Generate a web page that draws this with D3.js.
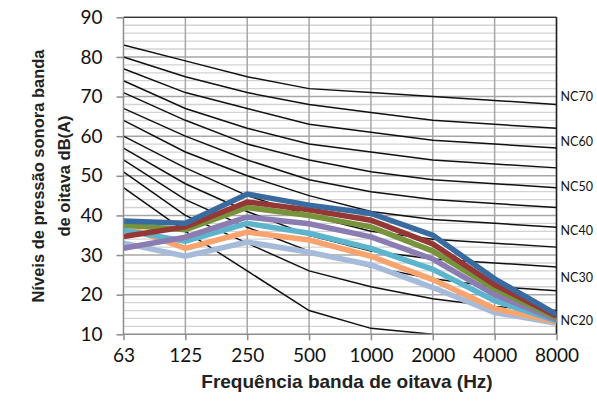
<!DOCTYPE html>
<html><head><meta charset="utf-8">
<script src="https://cdn.jsdelivr.net/npm/d3@7"></script>
<style>
html,body{margin:0;padding:0;background:#fff;}
svg{display:block;}
</style></head>
<body>
<svg id="chart" width="597" height="403"></svg>
<script>
// ---- data ----
const categories = ["63","125","250","500","1000","2000","4000","8000"];
const yTicks = [10,20,30,40,50,60,70,80,90];

// NC reference curves (black)
const nc70 = [83,79,75,72,71,70,69,68];
const nc65 = [80,75,71,68,66,64,63,62];
const nc60 = [77,71,67,63,61,59,58,57];
const nc55 = [74,67,62,58,56,54,53,52];
const nc50 = [71,64,58,54,51,49,48,47];
const nc45 = [67,60,54,49,46,44,43,42];
const nc40 = [64,56,50,45,41,39,38,37];
const nc35 = [60,52,45,40,36,34,33,32];
const nc30 = [57,48,41,35,31,29,28,27];
const nc25 = [54,44,37,31,27,24,22,21];
const nc20 = [51,40,33,26,22,19,17,16];
const nc15 = [47,36,26,16,11.5,10,null,null];
const ncCurves = [nc70,nc65,nc60,nc55,nc50,nc45,nc40,nc35,nc30,nc25,nc20,nc15];

// NC labels at right
const ncLabels = ["NC70","NC60","NC50","NC40","NC30","NC20"];
const ncLabelY = [69.9,58.6,47.3,36.2,24.2,13.4];

// measured series
const sBlue      = [38.6,38.0,45.4,42.6,40.5,35.0,24.0,15.0];
const sRed       = [34.7,37.1,43.4,41.4,38.8,32.8,22.5,14.6];
const sGreen     = [37.6,36.4,42.0,40.0,37.1,31.0,21.5,14.2];
const sPurple    = [31.7,34.5,39.6,37.9,34.6,29.0,20.0,13.7];
const sCyan      = [36.3,33.5,38.0,35.5,31.7,26.4,18.5,13.4];
const sOrange    = [37.3,31.7,35.8,33.8,29.7,23.8,16.5,13.1];
const sLightBlue = [33.0,29.7,33.3,30.7,27.5,21.8,15.5,12.8];
const series = [sBlue,sRed,sGreen,sPurple,sCyan,sOrange,sLightBlue];
const seriesColors = ["#3A6BA0","#953735","#77933C","#8B7DB1","#5DB5CD","#F9A46E","#A6BBDA"];

// ---- layout ----
const L = 123.5, R = 556.5, T = 17.3, B = 334.3;
const svg = d3.select("#chart");
const x = d3.scalePoint().domain(categories).range([L, R]);
const y = d3.scaleLinear().domain([10, 90]).range([B, T]);

// minor gridlines every 2
const minor = d3.range(12, 90, 2).filter(v => v % 10 !== 0);
svg.append("g").selectAll("line").data(minor).join("line")
  .attr("x1", L + 1).attr("x2", R).attr("y1", d => y(d)).attr("y2", d => y(d))
  .attr("stroke", "#D3D3D3").attr("stroke-width", 1.3);
// major gridlines
svg.append("g").selectAll("line").data(yTicks.filter(v => v > 10)).join("line")
  .attr("x1", L).attr("x2", R).attr("y1", d => y(d)).attr("y2", d => y(d))
  .attr("stroke", "#A6A6A6").attr("stroke-width", 1.5);
// vertical gridlines
svg.append("g").selectAll("line").data(categories.slice(1)).join("line")
  .attr("x1", d => x(d)).attr("x2", d => x(d)).attr("y1", T).attr("y2", B)
  .attr("stroke", "#A6A6A6").attr("stroke-width", 1.5);

// plot border top & right
svg.append("line").attr("x1", L).attr("x2", R).attr("y1", T).attr("y2", T)
  .attr("stroke", "#333").attr("stroke-width", 1.3);
svg.append("line").attr("x1", R).attr("x2", R).attr("y1", T).attr("y2", B)
  .attr("stroke", "#222").attr("stroke-width", 1.5);

// clip
svg.append("clipPath").attr("id", "clip").append("rect")
  .attr("x", L).attr("y", T).attr("width", R - L).attr("height", B - T);

const line = d3.line()
  .defined(d => d != null)
  .x((d, i) => x(categories[i]))
  .y(d => y(d));

// NC curves
svg.append("g").attr("clip-path", "url(#clip)").selectAll("path").data(ncCurves).join("path")
  .attr("d", d => line(d)).attr("fill", "none")
  .attr("stroke", "#111").attr("stroke-width", 1.5);

// colored series (drawn last-to-first so blue is on top)
svg.append("g").attr("clip-path", "url(#clip)").selectAll("path")
  .data(series.map((s, i) => ({s, c: seriesColors[i]})).reverse()).join("path")
  .attr("d", d => line(d.s)).attr("fill", "none")
  .attr("stroke", d => d.c).attr("stroke-width", 5.5)
  .attr("stroke-linejoin", "miter");

// axes
const axisColor = "#8C8C8C";
const yAxis = svg.append("g").attr("transform", `translate(${L},0)`)
  .call(d3.axisLeft(y).tickValues(yTicks).tickSize(7).tickPadding(14).tickFormat(d3.format("d")));
const xAxis = svg.append("g").attr("transform", `translate(0,${B})`)
  .call(d3.axisBottom(x).tickSize(6).tickPadding(8));
[yAxis, xAxis].forEach(g => {
  g.select(".domain").attr("stroke", axisColor).attr("stroke-width", 1.5);
  g.selectAll(".tick line").attr("stroke", axisColor).attr("stroke-width", 1.5);
  g.selectAll(".tick text").attr("fill", "#111").style("font-family", "Lato, 'Open Sans', sans-serif").style("font-size", "19px");
});
xAxis.select(".domain").attr("d", `M${L},0H${R}`);
yAxis.select(".domain").attr("d", `M0,${B}V${T}`);

// NC labels
svg.append("g").selectAll("text").data(ncLabels).join("text")
  .attr("x", R + 4).attr("y", (d, i) => y(ncLabelY[i])).attr("dy", "0.35em")
  .style("font-family", "Lato, 'Open Sans', sans-serif").style("font-size", "12.5px")
  .attr("fill", "#111").text(d => d);

// axis titles
svg.append("text").attr("x", 347).attr("y", 381).attr("dy", "0.35em")
  .attr("text-anchor", "middle")
  .style("font-family", "'Liberation Sans', Arial, sans-serif").style("font-weight", "bold").style("font-size", "19px")
  .attr("fill", "#222").text("Frequência banda de oitava (Hz)");

const yt = svg.append("text").attr("transform", "translate(0,176) rotate(-90)")
  .attr("text-anchor", "middle")
  .style("font-family", "'Liberation Sans', Arial, sans-serif").style("font-weight", "bold").style("font-size", "16.5px")
  .attr("fill", "#222");
yt.append("tspan").attr("x", 0).attr("y", 38).attr("dy", "0.35em").text("Níveis de pressão sonora banda");
yt.append("tspan").attr("x", 0).attr("y", 64).attr("dy", "0.35em").text("de oitava dB(A)");
</script>
</body></html>
